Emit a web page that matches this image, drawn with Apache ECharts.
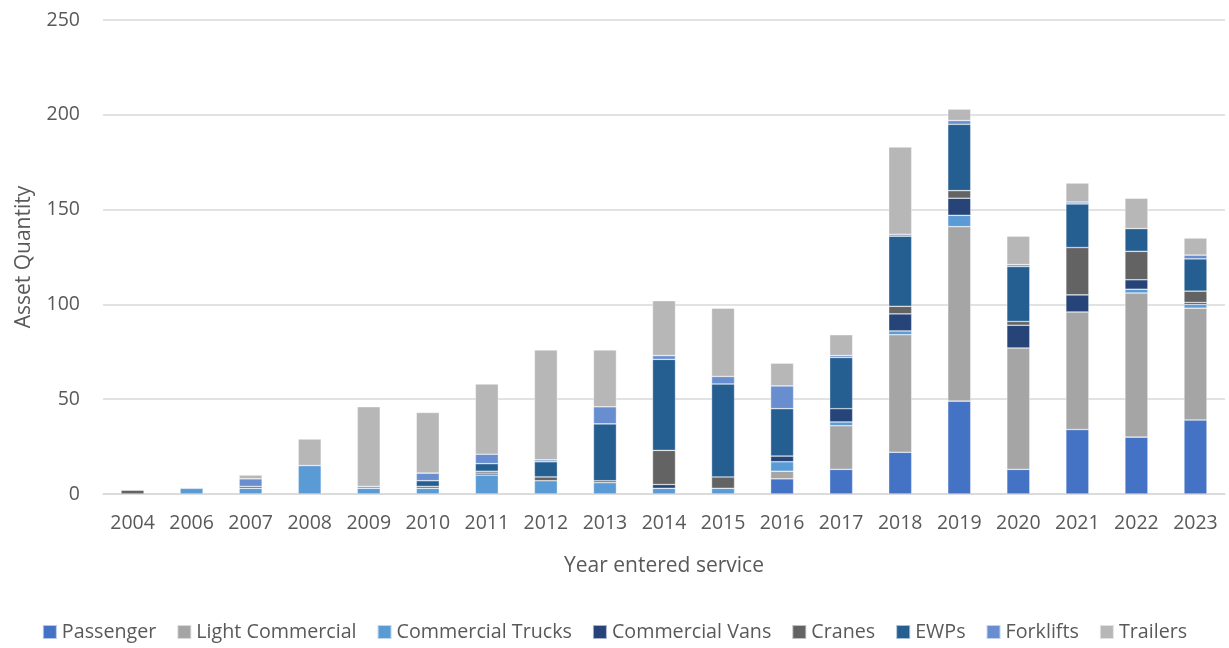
<!DOCTYPE html>
<html>
<head>
<meta charset="utf-8">
<script src="https://cdn.jsdelivr.net/npm/echarts@6/dist/echarts.min.js"></script>
<style>
  html, body { margin: 0; padding: 0; background: #fff; }
  #chart { width: 1229px; height: 648px; }
</style>
</head>
<body>
<div id="chart"></div>
<script>
// Fleet assets by year entered service, stacked by asset type
const years = ['2004','2006','2007','2008','2009','2010','2011','2012','2013','2014','2015','2016','2017','2018','2019','2020','2021','2022','2023'];

const passenger         = [0, 0, 0, 0, 0, 0, 0, 0, 0, 0, 0, 8, 13, 22, 49, 13, 34, 30, 39];
const lightCommercial   = [0, 0, 0, 0, 0, 0, 0, 0, 0, 0, 0, 4, 23, 62, 92, 64, 62, 76, 59];
const commercialTrucks  = [0, 3, 3, 15, 3, 3, 10, 7, 6, 3, 3, 5, 2, 2, 6, 0, 0, 2, 2];
const commercialVans    = [0, 0, 0, 0, 0, 0, 1, 0, 0, 2, 0, 3, 7, 9, 9, 12, 9, 5, 1];
const cranes            = [2, 0, 1, 0, 0, 1, 1, 2, 1, 18, 6, 0, 0, 4, 4, 2, 25, 15, 6];
const ewps              = [0, 0, 0, 0, 0, 3, 4, 8, 30, 48, 49, 25, 27, 37, 35, 29, 23, 12, 17];
const forklifts         = [0, 0, 4, 0, 1, 4, 5, 1, 9, 2, 4, 12, 1, 1, 2, 1, 1, 0, 2];
const trailers          = [0, 0, 2, 14, 42, 32, 37, 58, 30, 29, 36, 12, 11, 46, 6, 15, 10, 16, 9];

const yTicks = { min: 0, max: 250, interval: 50 };

const seriesDefs = [
  { name: 'Passenger',         data: passenger,        color: '#4472C4' },
  { name: 'Light Commercial',  data: lightCommercial,  color: '#A5A5A5' },
  { name: 'Commercial Trucks', data: commercialTrucks, color: '#5B9BD5' },
  { name: 'Commercial Vans',   data: commercialVans,   color: '#264478' },
  { name: 'Cranes',            data: cranes,           color: '#636363' },
  { name: 'EWPs',              data: ewps,             color: '#255E91' },
  { name: 'Forklifts',         data: forklifts,        color: '#698ED0' },
  { name: 'Trailers',          data: trailers,         color: '#B7B7B7' }
];

const font = '"Open Sans", "Noto Sans", "Liberation Sans", sans-serif';
const textColor = '#595959';

const chart = echarts.init(document.getElementById('chart'), null, { renderer: 'canvas' });

chart.setOption({
  animation: false,
  backgroundColor: '#ffffff',
  textStyle: { fontFamily: font, color: textColor },
  grid: { left: 103, right: 4, top: 20, bottom: 154, containLabel: false },
  legend: {
    bottom: 1,
    left: 'center',
    itemWidth: 14,
    itemHeight: 14,
    itemGap: 20,
    icon: 'rect',
    textStyle: { fontFamily: font, fontSize: 19.7, color: textColor },
    data: seriesDefs.map(s => s.name)
  },
  xAxis: {
    type: 'category',
    data: years,
    name: 'Year entered service',
    nameLocation: 'middle',
    nameGap: 62,
    nameTextStyle: { fontFamily: font, fontSize: 21, color: textColor },
    axisTick: { show: false },
    axisLine: { show: true, lineStyle: { color: '#d9d9d9', width: 1.5 } },
    axisLabel: { fontFamily: font, fontSize: 19.5, color: textColor, margin: 19, interval: 0 }
  },
  yAxis: {
    type: 'value',
    min: yTicks.min,
    max: yTicks.max,
    interval: yTicks.interval,
    name: 'Asset Quantity',
    nameLocation: 'middle',
    nameGap: 68,
    nameRotate: 90,
    nameTextStyle: { fontFamily: font, fontSize: 21, color: textColor },
    axisLine: { show: false },
    axisTick: { show: false },
    axisLabel: { fontFamily: font, fontSize: 19.5, color: textColor, margin: 23 },
    splitLine: { lineStyle: { color: '#d9d9d9', width: 1.5 } }
  },
  series: seriesDefs.map(s => ({
    name: s.name,
    type: 'bar',
    stack: 'total',
    barWidth: 23,
    data: s.data.map(v => (v === 0 ? '-' : v)),
    itemStyle: { color: s.color, borderColor: 'rgba(255,255,255,0.6)', borderWidth: 0.6 },
    emphasis: { disabled: true }
  }))
});
</script>
</body>
</html>
